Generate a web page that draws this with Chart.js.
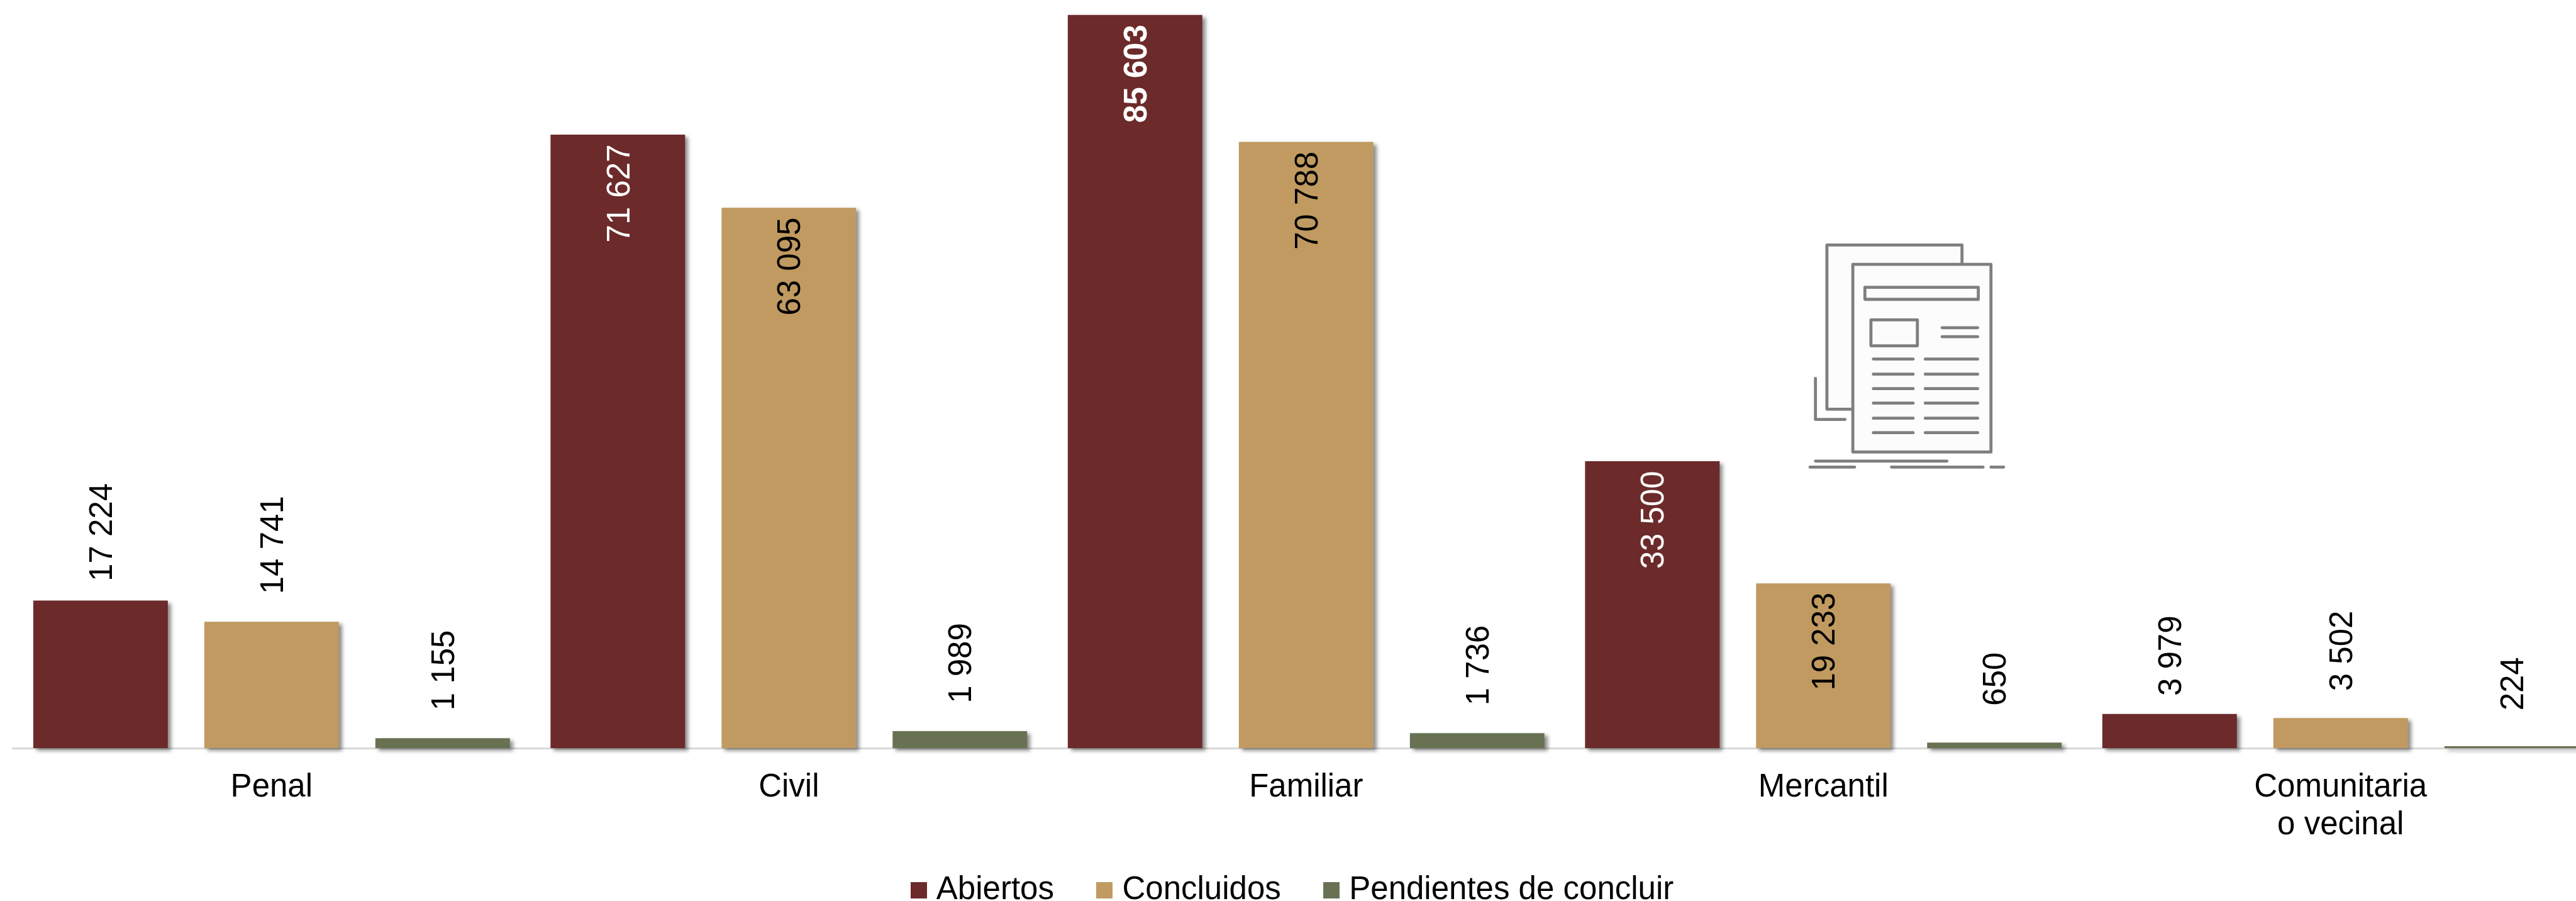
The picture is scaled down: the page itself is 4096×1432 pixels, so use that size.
<!DOCTYPE html>
<html lang="es">
<head>
<meta charset="utf-8">
<title>Asuntos por materia</title>
<script src="https://cdn.jsdelivr.net/npm/chart.js@4/dist/chart.umd.min.js"></script>
<style>
    html, body { margin: 0; padding: 0; background: #fff; overflow: hidden; }
    #wrap { position: relative; width: 4096px; height: 1432px; overflow: hidden; }
    #grafica { position: absolute; left: 0; top: 0; }
    #icono { position: absolute; left: 0; top: 0; pointer-events: none; }
</style>
</head>
<body>
<div id="wrap">
    <!-- the last category runs past the right edge in the original, so the canvas is wider than the window -->
    <canvas id="grafica" width="4133" height="1432"></canvas>
    <!-- newspaper icon, viewBox in reference pixels -->
    <svg id="icono" width="4096" height="1432" viewBox="0 0 4271 1493" fill="none" stroke="#7f7f7f" stroke-width="5" stroke-linecap="round" stroke-linejoin="round">
        <path fill="#fcfcfc" d="M3072 678H3029V406H3253V438"/>
        <rect fill="#fcfcfc" x="3072" y="438" width="229" height="311"/>
        <rect x="3092" y="476" width="188" height="20"/>
        <rect x="3102" y="530" width="77" height="43"/>
        <path d="M3220 543H3279M3220 558H3279"/>
        <path d="M3106 595H3172M3192 595H3279M3106 620H3172M3192 620H3279M3106 644H3172M3192 644H3279M3106 668H3172M3192 668H3279M3106 693H3172M3192 693H3279M3106 717H3172M3192 717H3279"/>
        <path d="M3010 627V695H3059"/>
        <path d="M3010 764H3228M3001 774H3075M3136 774H3288M3301 774H3322"/>
    </svg>
</div>
<script>
// Data
const categories = ['Penal', 'Civil', 'Familiar', 'Mercantil', ['Comunitaria', 'o vecinal']];
const abiertos = [17224, 71627, 85603, 33500, 3979];
const concluidos = [14741, 63095, 70788, 19233, 3502];
const pendientes = [1155, 1989, 1736, 650, 224];

const colors = { abiertos: '#6c2a2a', concluidos: '#c09a60', pendientes: '#687253' };
const SCALE = 0.959;
const FONT = '"Liberation Sans", Arial, sans-serif';
const FONT_SIZE = 51;

// distance from bar top to the start of each value label (reference px), negative = inside the bar
const labelGaps = [
    [32, -16, -16, -16, 30],
    [46, -16, -16, -15, 45],
    [46, 46, 46, 61, 59]
];

function formatValue(v) {
    return String(v).replace(/\B(?=(\d{3})+$)/g, ' ');
}

// plain square used as legend marker, so the text sits closer than the default gap
function swatch(color) {
    const c = document.createElement('canvas');
    c.width = 26;
    c.height = 26;
    const g = c.getContext('2d');
    g.fillStyle = color;
    g.fillRect(0, 0, 26, 26);
    return c;
}

const barShadow = {
    id: 'barShadow',
    beforeDatasetDraw(chart) {
        const ctx = chart.ctx;
        ctx.save();
        ctx.shadowColor = 'rgba(0,0,0,0.45)';
        ctx.shadowBlur = 6;
        ctx.shadowOffsetX = 5;
        ctx.shadowOffsetY = 4;
    },
    afterDatasetDraw(chart) {
        chart.ctx.restore();
    }
};

const valueLabels = {
    id: 'valueLabels',
    afterDatasetsDraw(chart) {
        const ctx = chart.ctx;
        chart.data.datasets.forEach((ds, s) => {
            chart.getDatasetMeta(s).data.forEach((bar, i) => {
                const gap = labelGaps[s][i] * SCALE;
                const inside = gap < 0;
                ctx.save();
                ctx.translate(bar.x + FONT_SIZE * 0.356, bar.y - gap);
                ctx.rotate(-Math.PI / 2);
                ctx.font = (ds.data[i] === Math.max(...abiertos) ? 'bold ' : '') + FONT_SIZE + 'px ' + FONT;
                ctx.fillStyle = inside && s === 0 ? '#fff' : '#000';
                ctx.textAlign = inside ? 'right' : 'left';
                ctx.textBaseline = 'alphabetic';
                ctx.fillText(formatValue(ds.data[i]), 0, 0);
                ctx.restore();
            });
        });
    }
};

// small layout corrections the options do not reach
const layoutTweaks = {
    id: 'layoutTweaks',
    afterLayout(chart) {
        chart.scales.x.bottom = chart.height; // two line label must not be clipped
        chart.legend.left -= 17;
        chart.legend.right -= 17;
        chart.legend.top += 18;
    }
};

new Chart(document.getElementById('grafica'), {
    type: 'bar',
    data: {
        labels: categories,
        datasets: [
            { label: 'Abiertos', data: abiertos, backgroundColor: colors.abiertos },
            { label: 'Concluidos', data: concluidos, backgroundColor: colors.concluidos },
            { label: 'Pendientes de concluir', data: pendientes, backgroundColor: colors.pendientes }
        ]
    },
    options: {
        responsive: false,
        animation: false,
        layout: { padding: { left: 20.6, right: 0, top: 0, bottom: 0 } },
        datasets: { bar: { categoryPercentage: 0.992, barPercentage: 0.7866, clip: false } },
        scales: {
            y: { display: false, min: 0, max: 87356 },
            x: {
                grid: { display: false, drawTicks: false },
                border: { color: '#d9d9d9', width: 3 },
                ticks: {
                    color: '#000',
                    font: { family: FONT, size: FONT_SIZE, lineHeight: 1.17 },
                    padding: 33,
                    maxRotation: 0,
                    autoSkip: false
                },
                afterFit(scale) { scale.height = 104; }
            }
        },
        plugins: {
            tooltip: { enabled: false },
            legend: {
                position: 'bottom',
                labels: {
                    color: '#000',
                    font: { family: FONT, size: FONT_SIZE },
                    padding: 78,
                    usePointStyle: true,
                    pointStyleWidth: 5,
                    generateLabels: chart => chart.data.datasets.map((d, i) => ({
                        text: d.label,
                        datasetIndex: i,
                        fontColor: '#000',
                        pointStyle: swatch(d.backgroundColor)
                    }))
                }
            }
        }
    },
    plugins: [barShadow, valueLabels, layoutTweaks]
});
</script>
</body>
</html>
